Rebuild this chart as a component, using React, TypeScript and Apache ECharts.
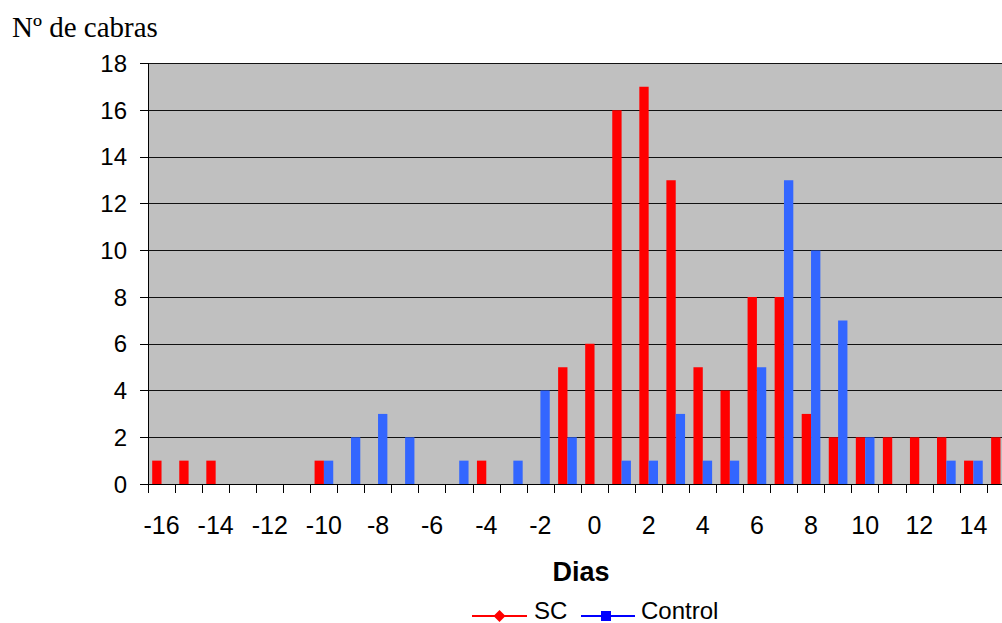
import React, { useEffect, useRef } from "react";
import * as echarts from "echarts";

const days: string[] = [
  "-16", "-15", "-14", "-13", "-12", "-11", "-10", "-9", "-8", "-7", "-6", "-5", "-4", "-3", "-2", "-1",
  "0", "1", "2", "3", "4", "5", "6", "7", "8", "9", "10", "11", "12", "13", "14", "15",
];
const scValues: number[] = [1, 1, 1, 0, 0, 0, 1, 0, 0, 0, 0, 0, 1, 0, 0, 5, 6, 16, 17, 13, 5, 4, 8, 8, 3, 2, 2, 2, 2, 2, 1, 2];
const controlValues: number[] = [0, 0, 0, 0, 0, 0, 1, 2, 3, 2, 0, 1, 0, 1, 4, 2, 0, 1, 1, 3, 1, 1, 5, 13, 10, 7, 2, 0, 0, 1, 1, 0];
const seriesNames: string[] = ["SC", "Control"];
const yTitle = "Nº de cabras";
const xTitle = "Dias";

export default function App() {
  const ref = useRef<HTMLDivElement>(null);
  useEffect(() => {
    if (!ref.current) return;
    const chart = echarts.init(ref.current, undefined, { renderer: "svg" });
    const arial = "Arial, 'Liberation Sans', sans-serif";
    chart.setOption({
      animation: false,
      backgroundColor: "#ffffff",
      grid: {
        left: 148,
        right: 0,
        top: 63.5,
        bottom: 139,
        show: true,
        backgroundColor: "#C0C0C0",
        borderWidth: 0,
      },
      xAxis: {
        type: "category",
        data: days,
        name: xTitle,
        nameLocation: "middle",
        nameGap: 74,
        nameTextStyle: { fontFamily: arial, fontSize: 27, fontWeight: "bold", color: "#000" },
        axisLine: { show: true, lineStyle: { color: "#000", width: 1 } },
        axisTick: { show: true, interval: 0, length: 9, lineStyle: { color: "#000" } },
        axisLabel: { interval: 1, margin: 28, fontFamily: arial, fontSize: 25, color: "#000" },
        splitLine: { show: false },
      },
      yAxis: {
        type: "value",
        min: 0,
        max: 18,
        interval: 2,
        axisLine: { show: true, lineStyle: { color: "#000", width: 1 } },
        axisTick: { show: true, length: 8, lineStyle: { color: "#000" } },
        axisLabel: { margin: 21, fontFamily: arial, fontSize: 24, color: "#000" },
        splitLine: { show: true, lineStyle: { color: "#111", width: 1 } },
      },
      series: [
        {
          name: seriesNames[0],
          type: "bar",
          data: scValues,
          itemStyle: { color: "#FF0000" },
          barGap: "0%",
          barCategoryGap: "31%",
        },
        {
          name: seriesNames[1],
          type: "bar",
          data: controlValues,
          itemStyle: { color: "#3366FF" },
          barGap: "0%",
          barCategoryGap: "31%",
        },
      ],
      graphic: [
        {
          type: "text",
          left: 12,
          top: 12,
          style: { text: yTitle, font: "29px 'Liberation Serif', 'Times New Roman', serif", fill: "#000" },
        },
        { type: "line", shape: { x1: 472, y1: 616, x2: 527, y2: 616 }, style: { stroke: "#FF0000", lineWidth: 2 } },
        {
          type: "polygon",
          shape: { points: [[499.5, 610], [505.5, 616], [499.5, 622], [493.5, 616]] },
          style: { fill: "#FF0000" },
        },
        {
          type: "text",
          x: 534,
          y: 610,
          style: { text: seriesNames[0], font: "24px Arial, 'Liberation Sans', sans-serif", fill: "#000", verticalAlign: "middle", lineHeight: 20 },
        },
        { type: "line", shape: { x1: 581, y1: 616, x2: 635, y2: 616 }, style: { stroke: "#0000FF", lineWidth: 2 } },
        { type: "rect", shape: { x: 601, y: 611, width: 10, height: 10 }, style: { fill: "#0000FF" } },
        {
          type: "text",
          x: 641,
          y: 610,
          style: { text: seriesNames[1], font: "24px Arial, 'Liberation Sans', sans-serif", fill: "#000", verticalAlign: "middle", lineHeight: 20 },
        },
      ],
    });
    return () => chart.dispose();
  }, []);
  return (
    <div style={{ position: "fixed", left: 0, top: 0, width: 1002, height: 623, overflow: "hidden" }}>
      <div ref={ref} style={{ width: 1014, height: 623 }} />
    </div>
  );
}
